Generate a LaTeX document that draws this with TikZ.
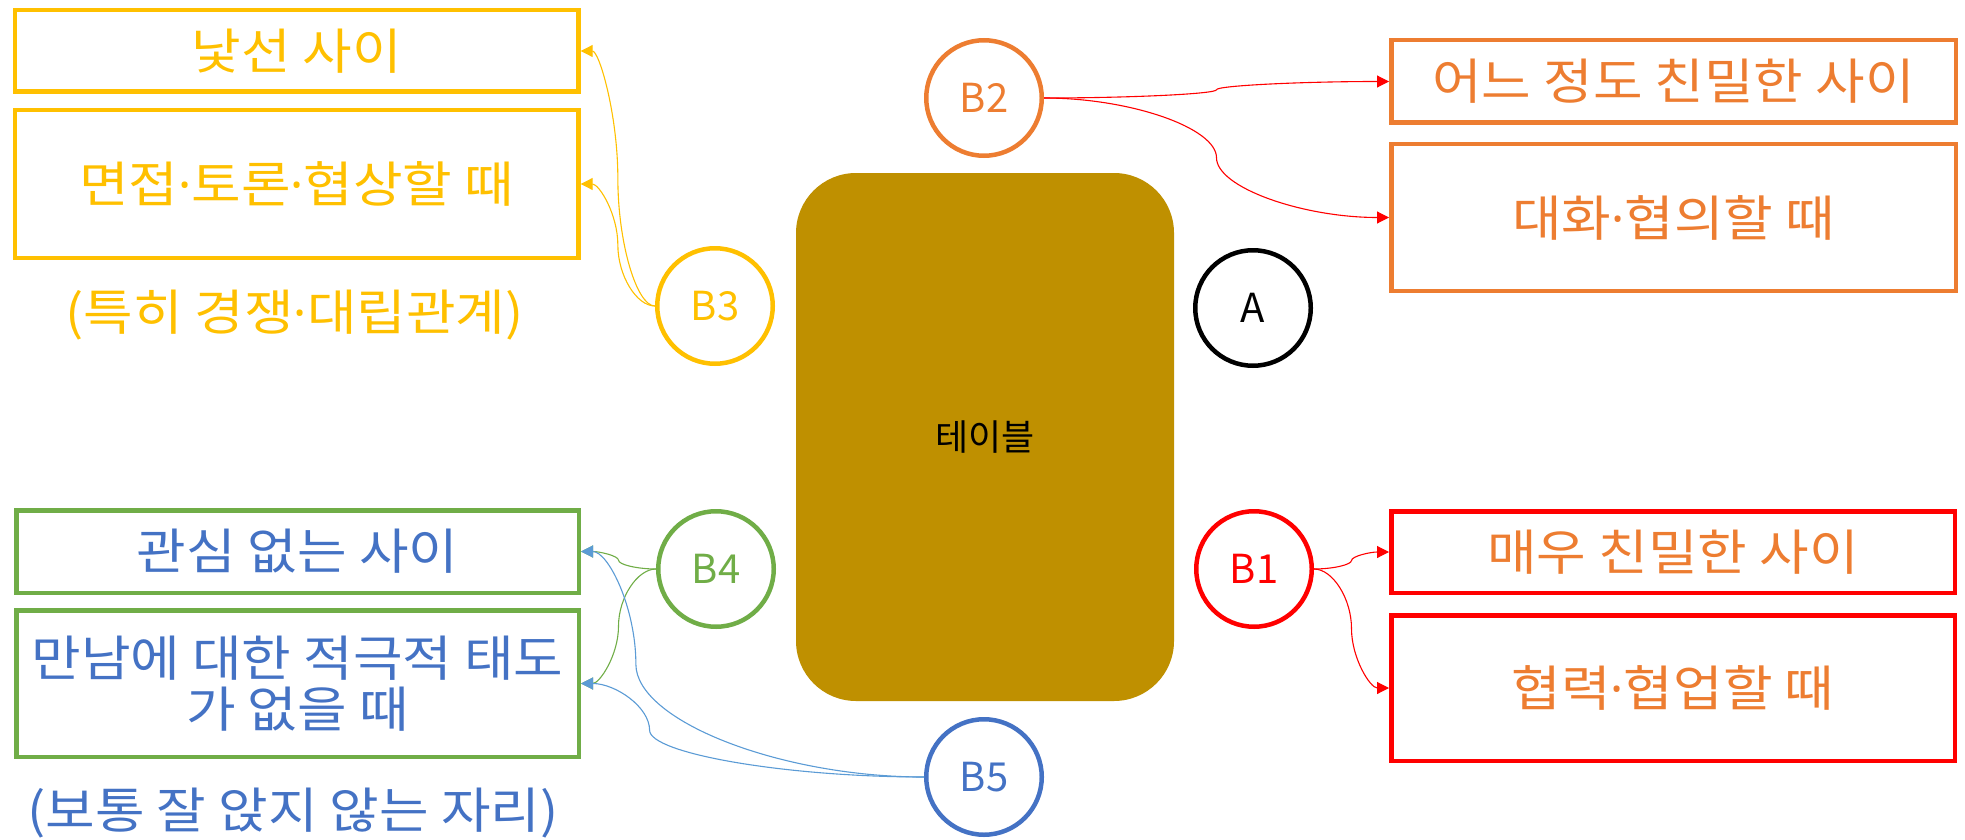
\documentclass[tikz,border=0pt]{standalone}
\usepackage{fontspec}
\setmainfont{Noto Sans CJK KR}
\newfontfamily\captionfont{Noto Sans CJK KR}[FakeStretch=1.1]
\newfontfamily\dotfont{Noto Sans}
\newcommand{\mdot}{{\dotfont ·}}
\usetikzlibrary{arrows.meta,calc}

\definecolor{cYellow}{HTML}{FFC000}
\definecolor{cOrange}{HTML}{ED7D31}
\definecolor{cRed}{HTML}{FF0000}
\definecolor{cGreen}{HTML}{70AD47}
\definecolor{cBlue}{HTML}{4472C4}
\definecolor{cLightBlue}{HTML}{5B9BD5}
\definecolor{cTable}{HTML}{BF9000}

\tikzset{
  % rectangular caption boxes
  labelbox/.style={draw=#1, line width=4.5pt, inner sep=0pt,
    font=\captionfont\fontsize{49}{51}\selectfont, align=center},
  % seat markers
  seat/.style={circle, draw=#1, text=#1, line width=4.5pt, inner sep=0pt,
    minimum size=115.5pt, font=\fontsize{40}{48}\selectfont},
  note/.style={font=\captionfont\fontsize{49}{51}\selectfont},
  % curved elbow connector: horizontal start, vertical middle, horizontal end
  elbow/.style={to path={
    let \p1=(\tikztostart), \p2=(\tikztotarget),
        \n1={\x1+#1*(\x2-\x1)} in
    .. controls ({(\x1+\n1)/2},\y1) and (\n1,{0.75*\y1+0.25*\y2})
    .. (\n1,{(\y1+\y2)/2})
    .. controls (\n1,{0.25*\y1+0.75*\y2}) and ({(\n1+\x2)/2},\y2)
    .. (\p2) \tikztonodes}},
  elbow/.default=0.5,
  link/.style={draw=#1, line width=1.1pt,
    -{Triangle[length=12pt,width=12pt]}}
}

\begin{document}
\begin{tikzpicture}[x=1pt,y=-1pt]
\useasboundingbox (0,0) rectangle (1965,840);

% table
\node[fill=cTable, rounded corners=60pt, minimum width=378pt,
      minimum height=528pt, inner sep=0pt,
      font=\fontsize{36}{40}\selectfont] (table) at (985,437) {테이블};

% seats
\node[seat=black] (A)  at (1253,308) {A};
\node[seat=cRed]    (B1) at (1254,569) {B1};
\node[seat=cOrange] (B2) at (984,98)   {B2};
\node[seat=cYellow] (B3) at (715,306)  {B3};
\node[seat=cGreen]  (B4) at (716,569)  {B4};
\node[seat=cBlue]   (B5) at (984,777)  {B5};

% captions, left side
\node[labelbox=cYellow, text=cYellow, minimum width=563.5pt, minimum height=81.5pt]
  (L1) at (296.7,51) {낯선 사이};
\node[labelbox=cYellow, text=cYellow, minimum width=563.5pt, minimum height=147.5pt]
  (L2) at (296.7,184) {면접\mdot 토론\mdot 협상할 때};
\node[note, text=cYellow] (N1) at (294.5,315) {(특히 경쟁\mdot 대립관계)};

\node[labelbox=cGreen, text=cBlue, minimum width=562.5pt, minimum height=82.5pt]
  (L3) at (297.5,551.5) {관심 없는 사이};
\node[labelbox=cGreen, text=cBlue, minimum width=562.5pt, minimum height=146.5pt]
  (L4) at (297.5,683.5) {만남에 대한 적극적 태도\\가 없을 때};
\node[note, text=cBlue] (N2) at (293,813) {(보통 잘 앉지 않는 자리)};

% captions, right side
\node[labelbox=cOrange, text=cOrange, minimum width=564.5pt, minimum height=82.5pt]
  (R1) at (1673.5,81.5) {어느 정도 친밀한 사이};
\node[labelbox=cOrange, text=cOrange, minimum width=564.5pt, minimum height=146.5pt]
  (R2) at (1673.5,217.5) {대화\mdot 협의할 때};

\node[labelbox=cRed, text=cOrange, minimum width=563.5pt, minimum height=81.5pt]
  (R3) at (1673,552) {매우 친밀한 사이};
\node[labelbox=cRed, text=cOrange, minimum width=563.5pt, minimum height=145.5pt]
  (R4) at (1673,688) {협력\mdot 협업할 때};

% connectors
\draw[link=cRed] (B1.east) to[elbow] (R3.west);
\draw[link=cRed] (B1.east) to[elbow] (R4.west);
\draw[link=cRed] (B2.east) to[elbow] (R1.west);
\draw[link=cRed] (B2.east) to[elbow] (R2.west);
\draw[link=cYellow] (B3.west) to[elbow] (L1.east);
\draw[link=cYellow] (B3.west) to[elbow] (L2.east);
\draw[link=cGreen] (B4.west) to[elbow] (L3.east);
\draw[link=cGreen] (B4.west) to[elbow] (L4.east);
\draw[link=cLightBlue] (B5.west) to[elbow=0.84] (L3.east);
\draw[link=cLightBlue] (B5.west) to[elbow=0.80] (L4.east);
\end{tikzpicture}
\end{document}
